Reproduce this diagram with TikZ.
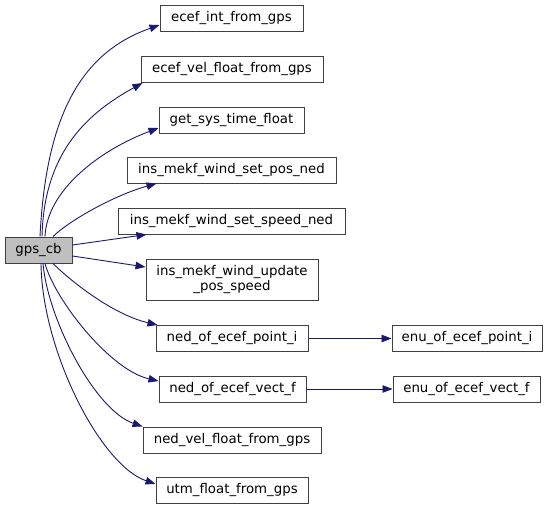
\documentclass[tikz,border=0pt]{standalone}
\usepackage{fontspec}
\setmainfont{DejaVu Sans}
\usetikzlibrary{arrows.meta}
\definecolor{edgeblue}{RGB}{25,25,112}
\definecolor{boxline}{RGB}{64,64,64}
\definecolor{rootfill}{RGB}{191,191,191}
\begin{document}
\begin{tikzpicture}[x=1pt,y=-1pt,
  fn/.style={draw=boxline,line width=1pt,fill=white,minimum height=26pt,inner sep=0pt,
    font=\fontsize{13.33}{15.5}\selectfont,align=center},
  root/.style={fn,fill=rootfill},
  edge/.style={draw=edgeblue,line width=0.9pt,-{Triangle[length=10pt,width=7.5pt]}}]
\useasboundingbox (0,0) rectangle (549,509);
\node[root,minimum width=67pt] (gps) at (38.5,250) {gps\_cb};
\node[fn,minimum width=143pt] (ecefint) at (231.5,18) {ecef\_int\_from\_gps};
\node[fn,minimum width=182pt] (ecefvel) at (232,69.5) {ecef\_vel\_float\_from\_gps};
\node[fn,minimum width=145pt] (getsys) at (231.5,120) {get\_sys\_time\_float};
\node[fn,minimum width=209pt] (setpos) at (231.5,170) {ins\_mekf\_wind\_set\_pos\_ned};
\node[fn,minimum width=227pt] (setspeed) at (231.5,221) {ins\_mekf\_wind\_set\_speed\_ned};
\node[fn,minimum width=172pt,minimum height=41pt] (update) at (232,279.5) {ins\_mekf\_wind\_update\\\_pos\_speed};
\node[fn,minimum width=152pt] (nedpoint) at (232,338.5) {ned\_of\_ecef\_point\_i};
\node[fn,minimum width=150pt] (enupoint) at (467,338.5) {enu\_of\_ecef\_point\_i};
\node[fn,minimum width=147pt] (nedvect) at (232.5,389) {ned\_of\_ecef\_vect\_f};
\node[fn,minimum width=147pt] (enuvect) at (466.5,389) {enu\_of\_ecef\_vect\_f};
\node[fn,minimum width=178pt] (nedvel) at (232,440) {ned\_vel\_float\_from\_gps};
\node[fn,minimum width=152pt] (utm) at (232,490.5) {utm\_float\_from\_gps};

\draw[edge] ([xshift=1.5pt]gps.north) .. controls (46,117) and (80,53) .. ([yshift=-7pt]ecefint.west);
\draw[edge] ([xshift=3.5pt]gps.north) .. controls (44,157) and (82,116) .. ([xshift=2pt]ecefvel.south west);
\draw[edge] ([xshift=6.5pt]gps.north) .. controls (47,190) and (100,150) .. ([yshift=-8pt]getsys.west);
\draw[edge] ([xshift=14.5pt]gps.north) .. controls (70,220) and (115,195) .. ([xshift=30pt]setpos.south west);
\draw[edge] ([yshift=5pt]gps.east) -- ([xshift=29pt]setspeed.south west);
\draw[edge] ([yshift=-6pt]gps.east) -- ([yshift=12.5pt]update.west);
\draw[edge] ([xshift=14.5pt]gps.south) .. controls (75,285) and (115,315) .. ([xshift=2pt]nedpoint.north west);
\draw[edge] ([xshift=6.5pt]gps.south) .. controls (55,300) and (110,370) .. ([yshift=8pt]nedvect.west);
\draw[edge] ([xshift=4.5pt]gps.south) .. controls (48,320) and (95,410) .. (nedvel.north west);
\draw[edge] ([xshift=2.5pt]gps.south) .. controls (42,350) and (100,465) .. ([yshift=6.5pt]utm.west);
\draw[edge] (nedpoint.east) -- (enupoint.west);
\draw[edge] (nedvect.east) -- (enuvect.west);
\end{tikzpicture}
\end{document}
